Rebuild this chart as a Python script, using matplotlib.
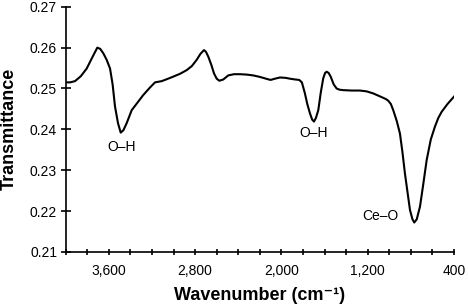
import matplotlib
matplotlib.use("Agg")
import matplotlib.pyplot as plt
from matplotlib.ticker import MultipleLocator, FixedLocator, FuncFormatter

plt.rcParams['font.family'] = ['Liberation Sans', 'DejaVu Sans']

# FTIR spectrum (cm-1, transmittance)
wavenumber = [4000, 3960, 3914, 3860, 3805, 3750, 3707, 3680, 3651, 3620, 3589,
              3565, 3543, 3515, 3490, 3465, 3435, 3410, 3388, 3330, 3281, 3220,
              3172, 3110, 3060, 3003, 2940, 2878, 2830, 2786, 2750, 2718, 2700,
              2678, 2650, 2625, 2600, 2576, 2539, 2493, 2440, 2384, 2320, 2261,
              2210, 2168, 2130, 2100, 2060, 2013, 1960, 1921, 1870, 1835, 1810,
              1782, 1760, 1735, 1715, 1698, 1680, 1658, 1635, 1612, 1595, 1580,
              1562, 1543, 1515, 1488, 1460, 1427, 1350, 1272, 1210, 1149, 1080,
              1030, 1009, 985, 963, 930, 901, 878, 855, 830, 808, 785, 768,
              745, 715, 685, 653, 615, 576, 545, 514, 460, 400]
transmittance = [0.2515, 0.2515, 0.2518, 0.2530, 0.2549, 0.2578, 0.2600, 0.2597,
                 0.2586, 0.2570, 0.2549, 0.2510, 0.2456, 0.2415, 0.2392, 0.2398,
                 0.2415, 0.2432, 0.2447, 0.2467, 0.2484, 0.2502, 0.2515, 0.2518,
                 0.2523, 0.2529, 0.2536, 0.2545, 0.2555, 0.2570, 0.2585, 0.2594,
                 0.2590, 0.2578, 0.2558, 0.2537, 0.2524, 0.2519, 0.2522, 0.2532,
                 0.2535, 0.2535, 0.2534, 0.2532, 0.2529, 0.2526, 0.2523, 0.2521,
                 0.2524, 0.2527, 0.2526, 0.2524, 0.2522, 0.2521, 0.2515, 0.2488,
                 0.2462, 0.2439, 0.2424, 0.2419, 0.2428, 0.2447, 0.2490, 0.2525,
                 0.2538, 0.2541, 0.2538, 0.2529, 0.2510, 0.2500, 0.2497, 0.2496,
                 0.2495, 0.2495, 0.2493, 0.2488, 0.2480, 0.2474, 0.2470, 0.2462,
                 0.2447, 0.2420, 0.2390, 0.2345, 0.2293, 0.2245, 0.2203, 0.2180,
                 0.2172, 0.2180, 0.2211, 0.2265, 0.2325, 0.2375, 0.2407, 0.2428,
                 0.2443, 0.2462, 0.2480]

x_ticks = [3600, 2800, 2000, 1200, 400]

labels = ["O–H", "O–H", "Ce–O"]
label_x = [3481, 1698, 1086]
label_y = [0.2358, 0.2390, 0.2187]

fig = plt.figure(figsize=(4.68, 3.08), dpi=100)
ax = fig.add_axes([0.1404, 0.182, 0.8296, 0.796])

ax.plot(wavenumber, transmittance, color="black", linewidth=1.5)

for txt, x, y in zip(labels, label_x, label_y):
    ax.text(x, y, txt, fontsize=10, ha="center", va="center")

ax.set_xlim(4000, 400)
ax.set_ylim(0.21, 0.27)
ax.xaxis.set_major_locator(FixedLocator(x_ticks))
ax.xaxis.set_minor_locator(MultipleLocator(200))
ax.xaxis.set_major_formatter(FuncFormatter(lambda v, p: f"{int(v):,}"))
ax.yaxis.set_major_locator(MultipleLocator(0.01))
ax.yaxis.set_major_formatter(FuncFormatter(lambda v, p: f"{v:.2f}"))

for s in ["top", "right"]:
    ax.spines[s].set_visible(False)
for s in ["left", "bottom"]:
    ax.spines[s].set_linewidth(1.2)

ax.tick_params(axis="x", which="both", direction="inout", length=5, width=1.2,
               labelsize=10, pad=6)
ax.tick_params(axis="y", which="major", direction="inout", length=6.5, width=1.2,
               labelsize=10, pad=3)

ax.set_xlabel("Wavenumber (cm⁻¹)", fontsize=13, fontweight="bold", labelpad=7)
ax.set_ylabel("Transmittance", fontsize=13, fontweight="bold", labelpad=9)

plt.savefig("out.png", dpi=100)
